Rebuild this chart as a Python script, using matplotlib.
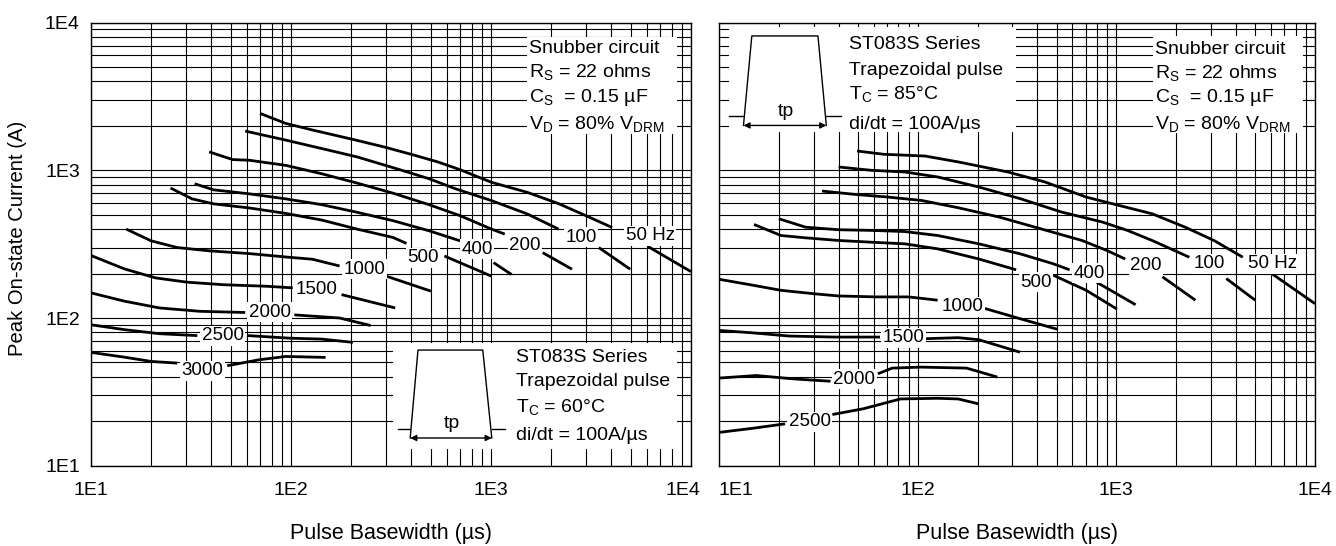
"""Peak on-state current vs. pulse basewidth, trapezoidal pulse (ST083S)."""

import numpy as np
import matplotlib

matplotlib.use("Agg")
import matplotlib.pyplot as plt
from matplotlib.patches import Rectangle
from matplotlib.ticker import NullFormatter
from matplotlib.transforms import ScaledTranslation

gap = np.nan  # curve is broken where its label sits

# one curve per repetition frequency
freq_labels = ["50 Hz", "100", "200", "400", "500", "1000", "1500", "2000", "2500", "3000"]

# left chart, T_C = 60 C: pulse basewidth (us)
left_width = [
    [70, 94, 128, 204, 292, 398, 542, 701, 1005, 1517, 2177, 2965, 4035, gap, 6095, 10000],
    [59, 94, 142, 214, 359, 489, 665, 1005, 1517, 2177, gap, 3460, 4966],
    [39, 51, 62, 94, 142, 214, 324, 489, 701, 1005, 1172, gap, 1815, 2541],
    [33, 41, 62, 94, 142, 214, 324, 489, 701, gap, 1030, 1268],
    [25, 32, 41, 62, 94, 142, 214, 324, 378, gap, 585, 1005],
    [15, 20, 27, 39, 62, 94, 128, 175, gap, 300, 501],
    [10, 14.7, 21, 30, 46, 76, 102, gap, 179, 332],
    [10, 14.7, 22, 35, 59, gap, 104, 175, 250],
    [10, 14.7, 22, 34, gap, 61, 99, 142, 204],
    [10, 14.7, 20, 27, gap, 48, 69, 94, 149],
]
# left chart: peak on-state current (A)
left_current = [
    [2430, 2080, 1875, 1620, 1440, 1285, 1140, 1010, 830, 710, 595, 495, 410, gap, 305, 206],
    [1845, 1603, 1406, 1233, 1000, 878, 750, 624, 507, 400, gap, 300, 214],
    [1334, 1183, 1170, 1081, 949, 820, 700, 586, 493, 400, 370, gap, 277, 214],
    [811, 738, 693, 641, 586, 520, 456, 390, 333, gap, 237, 197],
    [759, 641, 593, 556, 511, 461, 400, 351, 320, gap, 263, 192],
    [400, 333, 300, 285, 273, 259, 250, 225, gap, 192, 152],
    [265, 215, 187, 175, 168, 164, 160, gap, 144, 117],
    [148, 130, 117, 111, 109, gap, 105, 100, 89],
    [90, 83.4, 78.3, 76, gap, 76, 73, 72, 68.4],
    [58.5, 54.3, 50.8, 49.5, gap, 47.5, 52.1, 54.9, 54.1],
]
left_label_x = [6250, 2820, 1480, 853, 457, 232, 135, 78.5, 45.7, 36]
left_label_y = [360, 351, 308, 292, 255, 214, 157, 109, 76, 44]

# right chart, T_C = 85 C: pulse basewidth (us)
right_width = [
    [49.5, 67.6, 109, 160, 284, 437, 705, 1033, 1514, 2220, 3100, 4330, gap, 6050, 10000],
    [40, 58.6, 86, 126, 203, 328, 529, 853, 1136, 1514, 2330, gap, 3575, 5000],
    [33, 48.4, 71, 104, 160, 258, 416, 671, 894, 1108, gap, 1706, 2500],
    [20, 27.3, 40, 58.6, 86, 126, 203, 328, 481, 582, gap, 794, 1250],
    [15, 20.5, 27.3, 40, 58.6, 86, 126, 203, 313, gap, 481, 705, 1007],
    [10, 14.7, 20.5, 30, 40, 61.5, 90, 126, gap, 218, 327, 503],
    [10, 14.7, 22.5, 38, 64.6, gap, 109, 160, 203, 327],
    [10, 15.4, 23.7, 36.4, gap, 63, 74.5, 104, 176, 252],
    [10, 14.7, 21.5, gap, 37.2, 53.3, 81.8, 126, 160, 203],
]
# right chart: peak on-state current (A)
right_current = [
    [1352, 1284, 1250, 1140, 975, 834, 659, 578, 508, 412, 335, 258, gap, 200, 125],
    [1054, 1000, 975, 902, 771, 643, 522, 446, 392, 335, 258, gap, 185, 132],
    [724, 687, 659, 626, 558, 482, 402, 335, 287, 251, gap, 190, 132],
    [470, 412, 396, 392, 385, 362, 318, 272, 233, 212, gap, 175, 123],
    [430, 362, 349, 335, 326, 318, 294, 251, 212, gap, 195, 154, 115],
    [183, 167, 154, 146, 141, 139, 139, 132, gap, 116, 99, 84],
    [82.4, 79.4, 75.5, 74.3, 74.3, gap, 72.4, 73.6, 71.3, 58.7],
    [39.2, 40.8, 38.7, 37.3, gap, 41.9, 45.8, 46.5, 45.8, 39.8],
    [16.8, 17.9, 19.2, gap, 22.2, 24.3, 28.3, 28.6, 28.3, 26.2],
]
right_label_x = [6110, 2925, 1410, 731, 393, 168, 85, 48, 28.6]
right_label_y = [233, 233, 226, 201, 175, 119, 73.6, 38.4, 19.9]

decades = [10, 100, 1000, 10000]
decade_labels = ["1E1", "1E2", "1E3", "1E4"]

snubber_lines = [
    "Snubber circuit",
    "R$_S$ = 22 ohms",
    "C$_S$  = 0.15 \u00b5F",
    "V$_D$ = 80% V$_{DRM}$",
]
left_pulse_lines = ["ST083S Series", "Trapezoidal pulse", "T$_C$ = 60\u00b0C", "di/dt = 100A/\u00b5s"]
right_pulse_lines = ["ST083S Series", "Trapezoidal pulse", "T$_C$ = 85\u00b0C", "di/dt = 100A/\u00b5s"]

plt.rcParams["font.family"] = ["Liberation Sans", "DejaVu Sans"]
plt.rcParams["mathtext.default"] = "regular"

fig = plt.figure(figsize=(13.36, 5.46), dpi=100)
ax_l = fig.add_axes([0.0681, 0.1471, 0.4491, 0.8114])
ax_r = fig.add_axes([0.5382, 0.1471, 0.4461, 0.8114])


def setup_axes(ax):
    ax.set_xscale("log")
    ax.set_yscale("log")
    ax.set_xlim(10, 10000)
    ax.set_ylim(10, 10000)
    ax.set_axisbelow(True)
    ax.grid(True, which="both", color="black", lw=0.8)
    ax.tick_params(which="both", length=0, labelsize=14)
    ax.tick_params(axis="x", pad=12)
    ax.tick_params(axis="y", pad=8)
    ax.set_xticks(decades, decade_labels)
    ax.xaxis.set_minor_formatter(NullFormatter())
    ax.yaxis.set_minor_formatter(NullFormatter())
    for sp in ax.spines.values():
        sp.set_linewidth(1.0)
    ax.set_xlabel("Pulse Basewidth (\u00b5s)", fontsize=15.5)
    ax.xaxis.set_label_coords(0.5, -0.152)
    ax.xaxis.label.set_va("center")


def draw_curves(ax, widths, currents, lx, ly):
    for xs, ys, tx, ty, lab in zip(widths, currents, lx, ly, freq_labels):
        ax.plot(xs, ys, color="black", lw=2.0, zorder=2, solid_capstyle="butt")
        ax.text(tx, ty, lab, fontsize=13.5, ha="center", va="center", zorder=3,
                bbox=dict(boxstyle="square,pad=0.08", fc="white", ec="none"))


def text_block(ax, x0, x1, y0, y1, tx, ty, lines):
    ax.add_patch(Rectangle((x0, y0), x1 - x0, y1 - y0, transform=ax.transAxes,
                           fc="white", ec="none", zorder=1))
    for y, line in zip(ty, lines):
        ax.text(tx, y, line, transform=ax.transAxes, fontsize=14,
                ha="left", va="center", zorder=3)


def pulse_sketch(ax, top, bottom, base, xt, xb, xe, tp_pos):
    kw = dict(transform=ax.transAxes, color="black", lw=1.0, zorder=3)
    ax.plot([xb[0], xt[0], xt[1], xb[1]], [bottom, top, top, bottom], **kw)
    ax.plot([xe[0], xb[0]], [base, base], **kw)
    ax.plot([xb[1], xe[1]], [base, base], **kw)
    ax.annotate("", xy=(xb[1], bottom), xytext=(xb[0], bottom),
                xycoords="axes fraction", zorder=3,
                arrowprops=dict(arrowstyle="<|-|>", color="black", lw=1.0,
                                mutation_scale=9, shrinkA=0, shrinkB=0))
    ax.text(tp_pos[0], tp_pos[1], "tp", transform=ax.transAxes, fontsize=14,
            ha="center", va="center", zorder=3)


for ax in (ax_l, ax_r):
    setup_axes(ax)

ax_l.set_yticks(decades, decade_labels)
ax_l.yaxis.set_minor_formatter(NullFormatter())
ax_l.set_ylabel("Peak On-state Current (A)", fontsize=14.6)
ax_l.yaxis.set_label_coords(-0.122, 0.514)
ax_l.yaxis.label.set_va("center")
ax_r.set_yticks(decades, ["", "", "", ""])

# keep the edge labels of the two panels apart
lab = ax_l.get_xticklabels()[-1]
lab.set_transform(lab.get_transform() + ScaledTranslation(-0.08, 0, fig.dpi_scale_trans))
lab = ax_r.get_xticklabels()[0]
lab.set_transform(lab.get_transform() + ScaledTranslation(0.17, 0, fig.dpi_scale_trans))

draw_curves(ax_l, left_width, left_current, left_label_x, left_label_y)
draw_curves(ax_r, right_width, right_current, right_label_x, right_label_y)

# left panel boxes
text_block(ax_l, 0.727, 0.977, 0.749, 0.968, 0.73, [0.942, 0.889, 0.832, 0.771], snubber_lines)
text_block(ax_l, 0.503, 0.977, 0.038, 0.276, 0.708, [0.245, 0.191, 0.132, 0.068], left_pulse_lines)
pulse_sketch(ax_l, 0.261, 0.0625, 0.083, (0.545, 0.653), (0.532, 0.668), (0.512, 0.69), (0.601, 0.095))

# right panel boxes
text_block(ax_r, 0.017, 0.498, 0.753, 0.99, 0.218, [0.95, 0.891, 0.839, 0.771], right_pulse_lines)
text_block(ax_r, 0.728, 0.979, 0.75, 0.97, 0.732, [0.939, 0.887, 0.832, 0.771], snubber_lines)
pulse_sketch(ax_r, 0.97, 0.768, 0.79, (0.055, 0.166), (0.041, 0.18), (0.017, 0.204), (0.112, 0.80))

fig.savefig("out.png", dpi=100)
